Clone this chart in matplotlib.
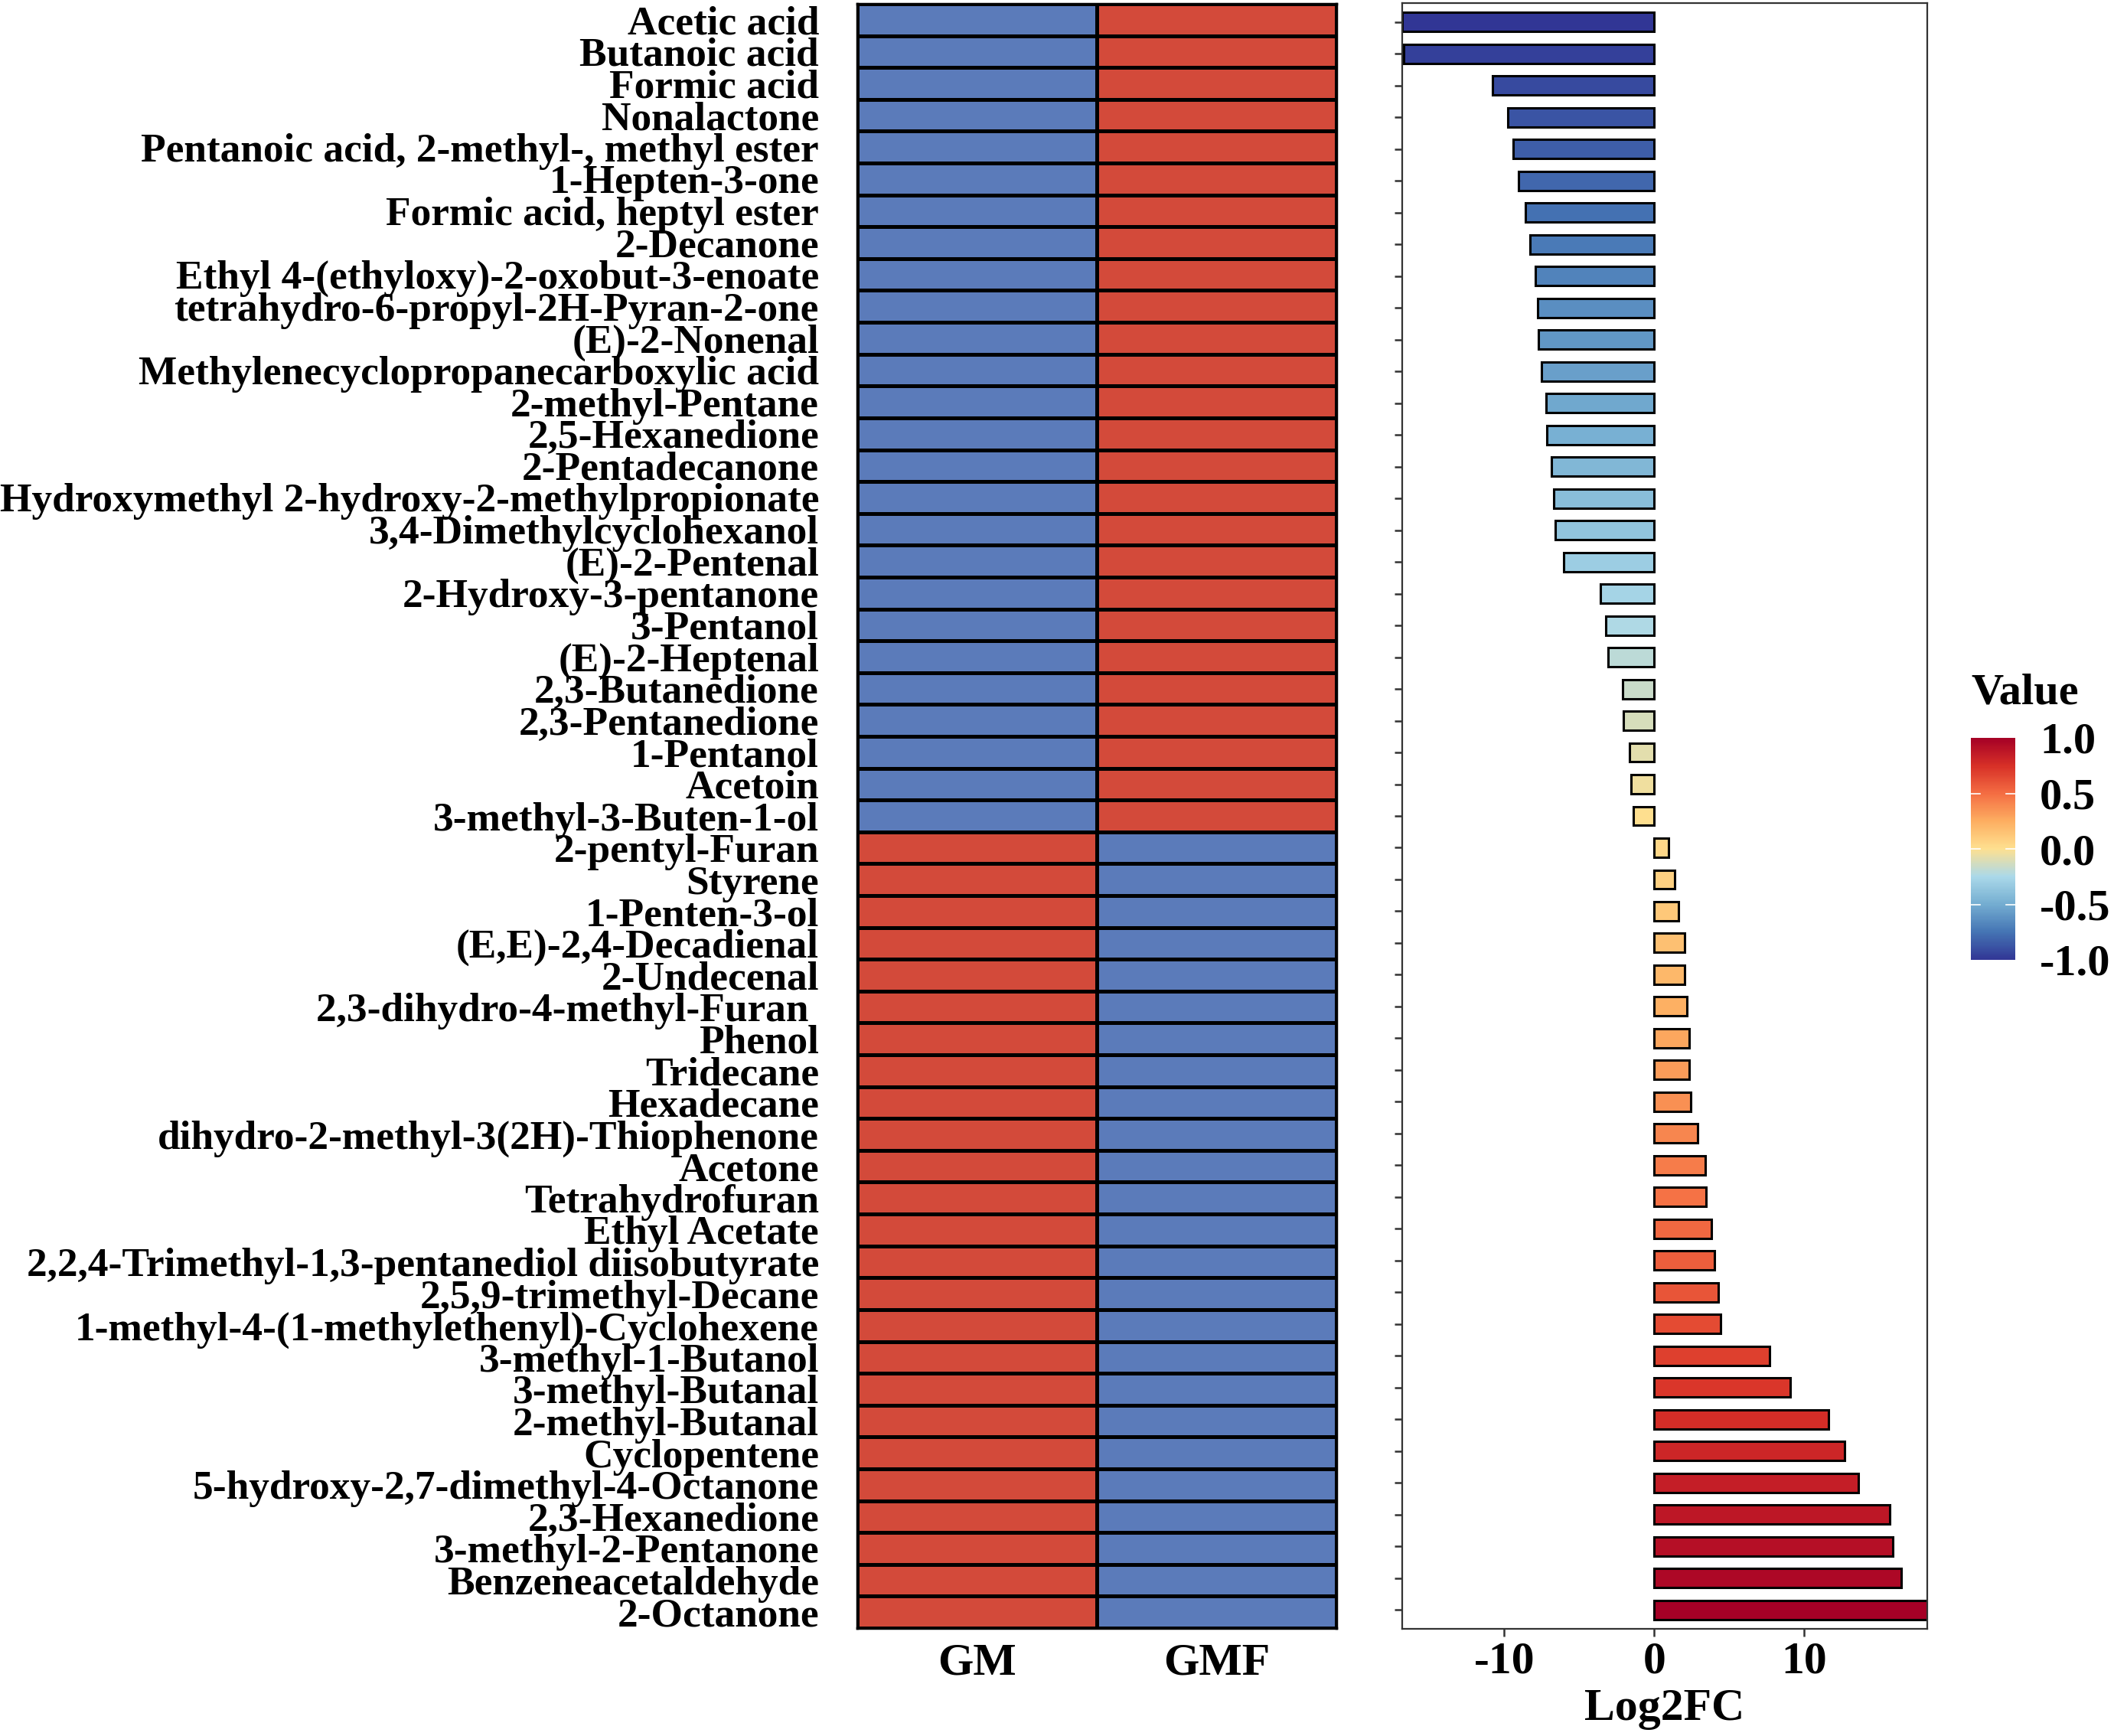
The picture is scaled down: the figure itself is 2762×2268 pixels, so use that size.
import matplotlib
matplotlib.use("Agg")
import matplotlib.pyplot as plt
import numpy as np
from matplotlib.colors import LinearSegmentedColormap, ListedColormap, Normalize
from matplotlib.cm import ScalarMappable

plt.rcParams['font.family'] = ['Liberation Serif', 'DejaVu Serif']
plt.rcParams['font.weight'] = 'bold'
plt.rcParams['axes.labelweight'] = 'bold'
plt.rcParams['axes.unicode_minus'] = False

# compounds, top to bottom
compounds = [
    "Acetic acid", "Butanoic acid", "Formic acid", "Nonalactone",
    "Pentanoic acid, 2-methyl-, methyl ester", "1-Hepten-3-one",
    "Formic acid, heptyl ester", "2-Decanone",
    "Ethyl 4-(ethyloxy)-2-oxobut-3-enoate", "tetrahydro-6-propyl-2H-Pyran-2-one",
    "(E)-2-Nonenal", "Methylenecyclopropanecarboxylic acid", "2-methyl-Pentane",
    "2,5-Hexanedione", "2-Pentadecanone", "Hydroxymethyl 2-hydroxy-2-methylpropionate",
    "3,4-Dimethylcyclohexanol", "(E)-2-Pentenal", "2-Hydroxy-3-pentanone",
    "3-Pentanol", "(E)-2-Heptenal", "2,3-Butanedione", "2,3-Pentanedione",
    "1-Pentanol", "Acetoin", "3-methyl-3-Buten-1-ol", "2-pentyl-Furan", "Styrene",
    "1-Penten-3-ol", "(E,E)-2,4-Decadienal", "2-Undecenal",
    "2,3-dihydro-4-methyl-Furan ", "Phenol", "Tridecane", "Hexadecane",
    "dihydro-2-methyl-3(2H)-Thiophenone", "Acetone", "Tetrahydrofuran",
    "Ethyl Acetate", "2,2,4-Trimethyl-1,3-pentanediol diisobutyrate",
    "2,5,9-trimethyl-Decane", "1-methyl-4-(1-methylethenyl)-Cyclohexene",
    "3-methyl-1-Butanol", "3-methyl-Butanal", "2-methyl-Butanal", "Cyclopentene",
    "5-hydroxy-2,7-dimethyl-4-Octanone", "2,3-Hexanedione", "3-methyl-2-Pentanone",
    "Benzeneacetaldehyde", "2-Octanone",
]

log2fc = [
    -16.8, -16.7, -10.8, -9.75, -9.4, -9.05, -8.6, -8.3, -7.9, -7.75,
    -7.7, -7.5, -7.2, -7.15, -6.85, -6.7, -6.6, -6.05, -3.6, -3.25,
    -3.05, -2.1, -2.05, -1.65, -1.55, -1.4, 0.93, 1.35, 1.64, 2.01,
    2.03, 2.19, 2.32, 2.33, 2.46, 2.87, 3.39, 3.44, 3.83, 4.03,
    4.28, 4.4, 7.67, 9.07, 11.6, 12.7, 13.6, 15.7, 15.9, 16.45,
    18.2,
]

groups = ["GM", "GMF"]
gm = [-1, -1, -1, -1, -1, -1, -1, -1, -1, -1, -1, -1, -1, -1, -1, -1, -1,
      -1, -1, -1, -1, -1, -1, -1, -1, -1, 1, 1, 1, 1, 1, 1, 1, 1, 1, 1, 1,
      1, 1, 1, 1, 1, 1, 1, 1, 1, 1, 1, 1, 1, 1]
gmf = [1, 1, 1, 1, 1, 1, 1, 1, 1, 1, 1, 1, 1, 1, 1, 1, 1, 1, 1, 1, 1, 1,
       1, 1, 1, 1, -1, -1, -1, -1, -1, -1, -1, -1, -1, -1, -1, -1, -1, -1,
       -1, -1, -1, -1, -1, -1, -1, -1, -1, -1, -1]

cbar_ticks = [-1.0, -0.5, 0.0, 0.5, 1.0]

palette = ["#313695", "#4575B4", "#74ADD1", "#ABD9E9", "#FEE090",
           "#FDAE61", "#F46D43", "#D73027", "#A50026"]
cmap = LinearSegmentedColormap.from_list("rdylbu9", palette)
heat_cmap = ListedColormap(["#5B7BBA", "#D34A3A"])

W, H = 2762, 2268
fig = plt.figure(figsize=(W / 100, H / 100), dpi=100)


def box(x0, y0, x1, y1):
    return [x0 / W, 1 - y1 / H, (x1 - x0) / W, (y1 - y0) / H]


n = len(compounds)

# heatmap
ax1 = fig.add_axes(box(1120, 5, 1746, 2127))
data = np.column_stack([gm, gmf])
ax1.pcolormesh(np.arange(3), np.arange(n + 1), data, cmap=heat_cmap, vmin=-1, vmax=1,
               edgecolors="black", linewidth=2.4)
ax1.set_ylim(n, 0)
ax1.set_xlim(0, 2)
ax1.set_xticks([0.5, 1.5])
ax1.set_xticklabels(groups, fontsize=43)
ax1.set_yticks(np.arange(n) + 0.5)
ax1.set_yticklabels(compounds, fontsize=38.4)
ax1.tick_params(axis="both", length=0)
ax1.tick_params(axis="y", pad=36)
ax1.tick_params(axis="x", pad=14)
for s in ax1.spines.values():
    s.set_linewidth(2.5)
    s.set_color("black")

# bar chart
ax2 = fig.add_axes(box(1832, 4, 2518, 2128))
ranks = np.arange(n)
bar_colors = cmap(ranks / (n - 1))
ax2.barh(ranks, log2fc, height=0.6, color=bar_colors, edgecolor="black", linewidth=2.2)
ax2.set_ylim(n - 1 + 0.6, -0.6)
ax2.set_xlim(-16.8, 18.2)
ax2.set_xticks([-10, 0, 10])
ax2.set_xticklabels(["-10", "0", "10"], fontsize=43)
ax2.set_yticks(ranks)
ax2.set_yticklabels([])
ax2.tick_params(axis="both", length=7.2, width=1.8, color="#333333")
ax2.tick_params(axis="x", pad=5)
ax2.set_xlabel("Log2FC", fontsize=43, labelpad=5)
for s in ax2.spines.values():
    s.set_linewidth(1.6)
    s.set_color("#333333")

# colour bar
cax = fig.add_axes(box(2575, 964, 2633, 1254))
sm = ScalarMappable(norm=Normalize(-1, 1), cmap=cmap)
cb = fig.colorbar(sm, cax=cax, ticks=cbar_ticks)
cb.outline.set_visible(False)
cb.ax.set_yticklabels(["%.1f" % t for t in cbar_ticks], fontsize=42)
cb.ax.tick_params(length=0, pad=23)
tr = cax.get_yaxis_transform()
for t in cbar_ticks[1:-1]:
    cax.plot([0, 0.2], [t, t], color="white", lw=1.2, transform=tr)
    cax.plot([0.8, 1], [t, t], color="white", lw=1.2, transform=tr)
cax.text(0.0, 1.2, "Value", transform=cax.transAxes, fontsize=42,
         ha="left", va="center")

fig.savefig("out.png", dpi=100)
